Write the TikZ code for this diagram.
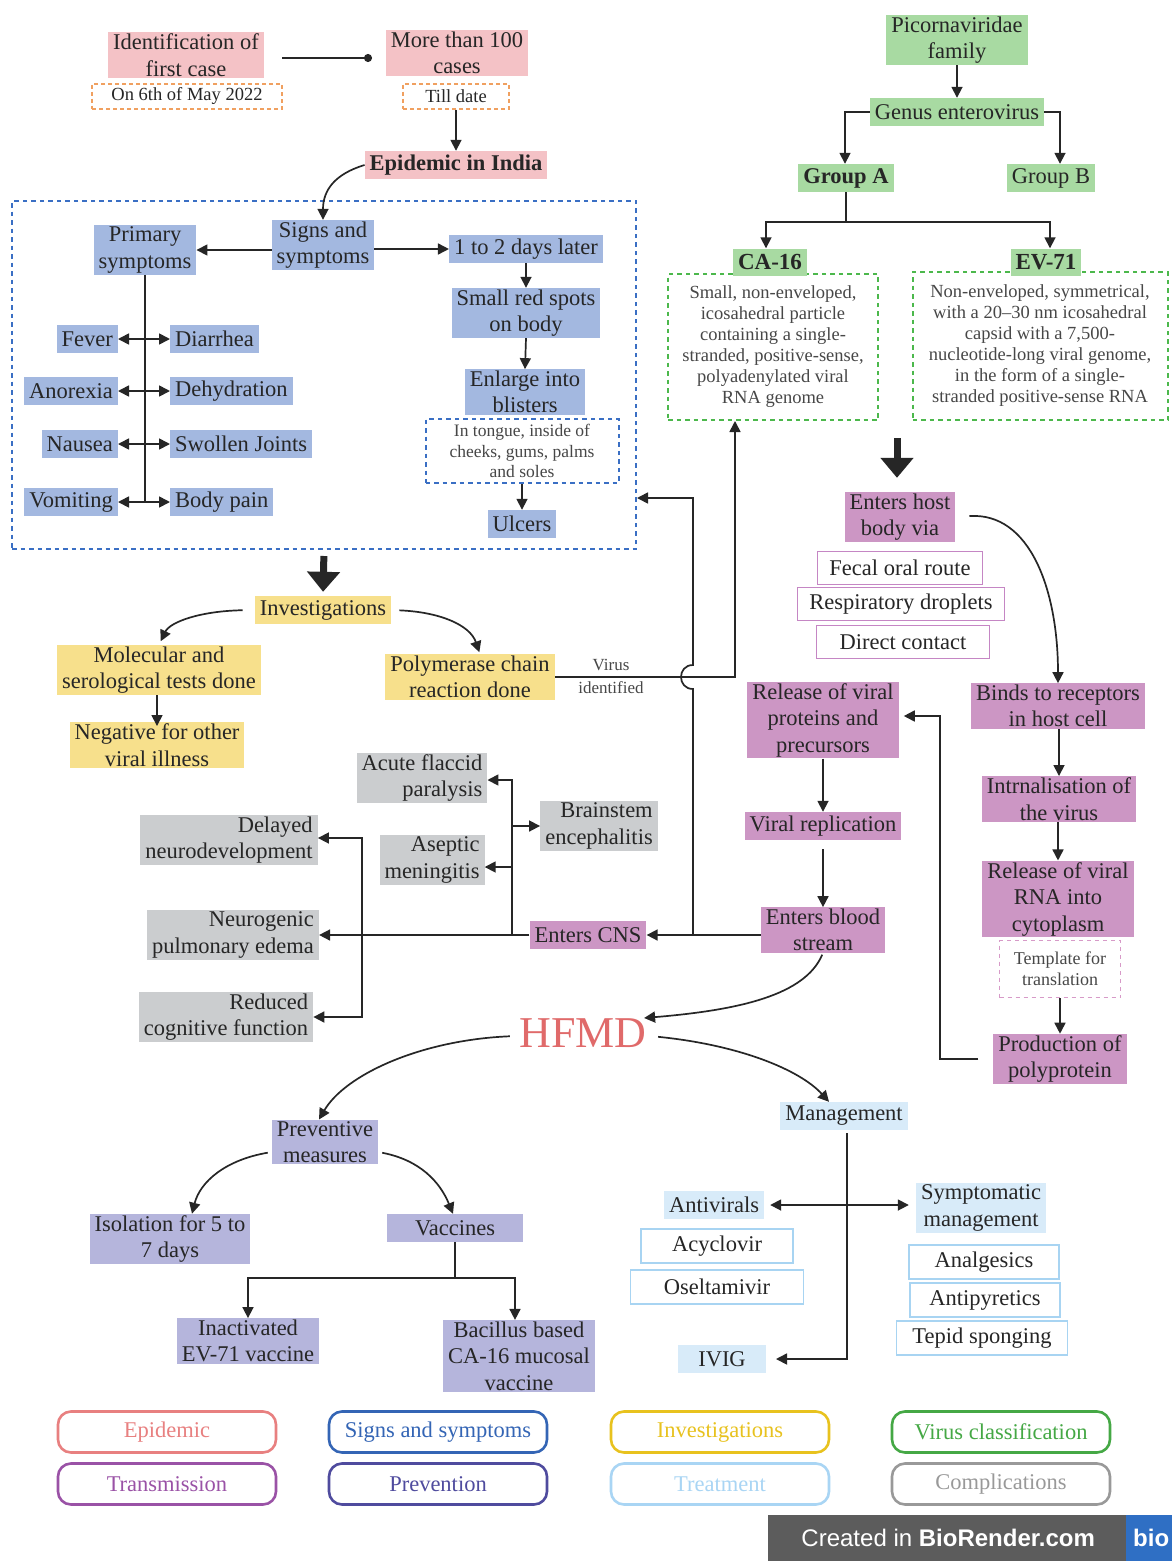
\documentclass[tikz,border=0pt]{standalone}
\usepackage{fontspec}
\setmainfont{Liberation Serif}
\newfontfamily\wmfont{Liberation Sans}
\usetikzlibrary{arrows.meta}
\definecolor{txt}{HTML}{262626}
\definecolor{epiF}{HTML}{F4C2C6}
\definecolor{blueF}{HTML}{A3B8E0}
\definecolor{yelF}{HTML}{F7E08C}
\definecolor{grnF}{HTML}{A8DAA2}
\definecolor{purF}{HTML}{CC96C4}
\definecolor{prevF}{HTML}{B5B5DC}
\definecolor{treatF}{HTML}{D8EBF9}
\definecolor{compF}{HTML}{CBCDCF}
\definecolor{orangeD}{HTML}{F0A060}
\definecolor{blueD}{HTML}{3A6FC4}
\definecolor{greenD}{HTML}{4CB84C}
\definecolor{pinkD}{HTML}{D79AC8}
\definecolor{purB}{HTML}{C586C4}
\definecolor{treatB}{HTML}{A8D4F2}
\definecolor{hfmdC}{HTML}{E06A6A}
\definecolor{lgEpi}{HTML}{E88080}
\definecolor{lgSig}{HTML}{3465B5}
\definecolor{lgInv}{HTML}{E8C21E}
\definecolor{lgVir}{HTML}{45A845}
\definecolor{lgTra}{HTML}{9A52A6}
\definecolor{lgPre}{HTML}{4F4B9E}
\definecolor{lgTre}{HTML}{A9D5F4}
\definecolor{lgCom}{HTML}{999999}
\definecolor{wmG}{HTML}{5C5C5C}
\definecolor{wmB}{HTML}{2F6FC4}
\tikzset{
  box/.style={align=center, inner xsep=5pt, inner ysep=1.5pt, text=txt, minimum height=28pt,
    font=\fontsize{22.5}{26.5}\selectfont},
  epiN/.style={box, fill=epiF},
  sigN/.style={box, fill=blueF},
  invN/.style={box, fill=yelF},
  virN/.style={box, fill=grnF},
  traN/.style={box, fill=purF},
  preN/.style={box, fill=prevF},
  treN/.style={box, fill=treatF},
  comN/.style={box, fill=compF, align=right},
  dateN/.style={box, draw=orangeD, line width=2pt, dash pattern=on 4pt off 3pt, minimum height=25pt,
    font=\fontsize{18.5}{20}\selectfont, inner ysep=2pt, inner xsep=8pt},
  descN/.style={align=center, text=txt!85, draw=greenD, line width=2pt,
    dash pattern=on 4.5pt off 4pt, font=\fontsize{18.5}{21}\selectfont, inner sep=4pt},
  routeN/.style={box, fill=white, draw=purB, line width=1.4pt, minimum height=33pt},
  drugN/.style={box, fill=white, draw=treatB, line width=1.4pt, minimum height=34pt},
  ln/.style={draw=txt, line width=1.7pt},
  arr/.style={ln, -{Triangle[length=11pt,width=11pt]}},
  arrs/.style={ln, {Triangle[length=11pt,width=11pt]}-{Triangle[length=11pt,width=11pt]}},
  bigarr/.style={draw=txt, line width=7pt, -{Triangle[length=20pt,width=32pt]}},
  legN/.style={draw, line width=2.6pt, rounded corners=13pt, minimum width=218pt,
    minimum height=41pt, font=\fontsize{22.5}{24}\selectfont, fill=white},
}
\begin{document}
\begin{tikzpicture}[x=1pt,y=-1pt]
\useasboundingbox (0,0) rectangle (1172,1561);
\fill[white] (0,0) rectangle (1172,1561);

% ---------- Epidemic ----------
\node[epiN] (id1) at (186,55) {Identification of\\first case};
\node[dateN, minimum width=190pt] (d1) at (187,96) {On 6th of May 2022};
\node[epiN] (m100) at (457,53) {More than 100\\cases};
\node[dateN, minimum width=106pt] (d2) at (456,96) {Till date};
\node[epiN, font=\fontsize{22.5}{26.5}\selectfont\bfseries] (epi) at (456,165) {Epidemic in India};
\coordinate (a1) at (272,58);
\coordinate (a2) at (382,58);
\draw[ln, -{Circle[length=8pt]}, shorten <=10pt, shorten >=10pt] (a1) -- (a2);
\draw[arr] (d2.south) -- (epi.north);

% ---------- Signs and symptoms ----------
\node[draw=blueD, line width=2pt, dash pattern=on 4.5pt off 4pt, minimum width=624pt,
  minimum height=348pt, inner sep=0pt] (sbox) at (324,375) {};
\node[sigN] (signs) at (323,245) {Signs and\\symptoms};
\node[sigN] (prim) at (145,250) {Primary\\symptoms};
\node[sigN] (days) at (526,249) {1 to 2 days later};
\node[sigN] (spots) at (526,313) {Small red spots\\on body};
\node[sigN] (enl) at (525,392) {Enlarge into\\blisters};
\node[descN, draw=blueD, inner sep=2pt, minimum width=193pt, minimum height=64pt,
  font=\fontsize{17.5}{20.5}\selectfont] (tongue) at (522,451) {In tongue, inside of\\cheeks, gums, palms\\and soles};
\node[sigN] (ulc) at (522,524) {Ulcers};
\draw[ln, -{Triangle[length=11pt,width=11pt]}] (epi.west) .. controls (335,174) and (323,190) .. (signs.north);
\draw[arr] (signs.west |- prim) -- (prim.east);
\draw[arr] (signs.east |- days) -- (days.west);
\draw[arr] (days.south) -- (spots.north);
\draw[arr] (spots.south) -- (enl.north);
\draw[arr] (tongue.south) -- (ulc.north);

\node[sigN, anchor=east] (fever) at (118,339) {Fever};
\node[sigN, anchor=west] (diar) at (170,339) {Diarrhea};
\node[sigN, anchor=east] (anor) at (118,391) {Anorexia};
\node[sigN, anchor=west] (dehy) at (170,391) {Dehydration};
\node[sigN, anchor=east] (naus) at (118,444) {Nausea};
\node[sigN, anchor=west] (swol) at (170,444) {Swollen Joints};
\node[sigN, anchor=east] (vomi) at (118,502) {Vomiting};
\node[sigN, anchor=west] (body) at (170,502) {Body pain};
\draw[ln] (prim.south) -- (prim.south |- vomi.east);
\draw[arrs] (fever.east) -- (diar.west);
\draw[arrs] (anor.east) -- (dehy.west);
\draw[arrs] (naus.east) -- (swol.west);
\draw[arrs] (vomi.east) -- (body.west);

% ---------- Investigations ----------
\node[invN] (inv) at (323,610) {Investigations};
\node[invN] (mol) at (159,670) {Molecular and\\serological tests done};
\node[invN] (neg) at (157,745) {Negative for other\\viral illness};
\node[invN] (pcr) at (470,677) {Polymerase chain\\reaction done};
\draw[bigarr, shorten <=6pt, shorten >=4pt] (sbox.south) -- (inv.north);
\draw[arr, shorten <=12pt, shorten >=4pt] (inv.west) .. controls (200,611) and (170,622) .. (mol.north);
\draw[arr, shorten <=8pt, shorten >=2pt] (inv.east) .. controls (440,612) and (470,625) .. ([xshift=10pt]pcr.north);
\draw[arr, shorten >=-4pt] (mol.south -| neg.north) -- (neg.north);

\coordinate (pv) at (735,677);
\node[font=\fontsize{17}{18}\selectfont, text=txt!85] (vl1) at (611,665) {Virus};
\node[font=\fontsize{17}{18}\selectfont, text=txt!85] (vl2) at (611,688) {identified};

% ---------- Complications ----------
\node[comN] (afp) at (422,778) {Acute flaccid\\paralysis};
\node[comN] (brain) at (599,826) {Brainstem\\encephalitis};
\node[comN] (asep) at (432,860) {Aseptic\\meningitis};
\node[traN] (cns) at (588,935) {Enters CNS};
\node[comN] (dely) at (229,840) {Delayed\\neurodevelopment};
\node[comN] (neur) at (233,935) {Neurogenic\\pulmonary edema};
\node[comN] (redc) at (226,1017) {Reduced\\cognitive function};
\coordinate (cv1) at (512,935);
\coordinate (cv2) at (362,935);
\draw[arr] (cns.west) -- (neur.east);
\draw[arr] (cv1) |- ([yshift=-2pt]afp.east);
\draw[arr] (cv1) |- ([yshift=-7pt]asep.east);
\draw[arr] (cv1) |- (brain.west);
\draw[arr] (cv2) |- ([yshift=2pt]dely.east);
\draw[arr] (cv2) |- (redc.east);

% ---------- Virus classification ----------
\node[virN] (pico) at (957,40) {Picornaviridae\\family};
\node[virN] (genus) at (957,112) {Genus enterovirus};
\node[virN, font=\fontsize{22.5}{26.5}\selectfont\bfseries] (grpA) at (846,178) {Group A};
\node[virN] (grpB) at (1051,178) {Group B};
\node[descN, minimum width=210pt, minimum height=146pt] (cadesc) at (773,347) {Small, non-enveloped,\\icosahedral particle\\containing a single-\\stranded, positive-sense,\\polyadenylated viral\\RNA genome};
\node[descN, minimum width=255pt, minimum height=148pt] (evdesc) at (1040,346) {Non-enveloped, symmetrical,\\with a 20--30 nm icosahedral\\capsid with a 7,500-\\nucleotide-long viral genome,\\in the form of a single-\\stranded positive-sense RNA};
\node[virN, font=\fontsize{23}{25}\selectfont\bfseries, inner ysep=1pt, minimum height=27pt] (ca16) at (770,262) {CA-16};
\node[virN, font=\fontsize{23}{25}\selectfont\bfseries, inner ysep=1pt, minimum height=27pt] (ev71) at (1046,262) {EV-71};
\draw[arr] (pico.south) -- (genus.north);
\coordinate (gA) at (845,112);
\coordinate (gB) at (1060,112);
\draw[arr] (genus.west) -- (gA) -- (gA |- grpA.north);
\draw[arr] (genus.east) -- (gB) -- (gB |- grpB.north);
\coordinate (gj) at (846,222);
\draw[ln] (grpA.south) -- (gj);
\draw[arr] (gj) -| ([xshift=-4pt]ca16.north);
\draw[arr] (gj) -| ([xshift=4pt]ev71.north);

% ---------- Transmission ----------
\coordinate (vc) at (897,438);
\node[traN] (enter) at (900,517) {Enters host\\body via};
\node[routeN, minimum width=165pt] (fecal) at (900,568) {Fecal oral route};
\node[routeN, minimum width=207pt] (resp) at (901,604) {Respiratory droplets};
\node[routeN, minimum width=173pt] (direct) at (903,642) {Direct contact};
\draw[bigarr, shorten >=14pt] (vc) -- (vc |- enter.north);
\node[traN] (binds) at (1058,706) {Binds to receptors\\in host cell};
\node[traN] (intr) at (1059,799) {Intrnalisation of\\the virus};
\node[traN] (relr) at (1058,899) {Release of viral\\RNA into\\cytoplasm};
\node[draw=pinkD, line width=1.6pt, dash pattern=on 4pt off 4pt, align=center,
  font=\fontsize{18}{21}\selectfont, text=txt!85, minimum width=121pt, minimum height=57pt] (templ) at (1060,969) {Template for\\translation};
\node[traN] (prod) at (1060,1059) {Production of\\polyprotein};
\node[traN] (relp) at (823,720) {Release of viral\\proteins and\\precursors};
\node[traN] (vrep) at (823,826) {Viral replication};
\node[traN] (blood) at (823,930) {Enters blood\\stream};
\draw[arr, shorten <=14pt] (enter.east) .. controls (1030,512) and (1058,590) .. (binds.north);
\draw[arr] (binds.south -| intr.north) -- (intr.north);
\draw[arr] (intr.south -| relr.north) -- (relr.north);
\draw[arr] (templ.south) -- (prod.north);
\coordinate (pr1) at (940,1059);
\coordinate (pr2) at (940,716);
\draw[arr, shorten <=15pt, shorten >=5pt] (prod.west) -- (pr1) -- (pr2) -- (pr2 -| relp.east);
\draw[arr] (relp.south) -- (vrep.north);
\draw[arr, shorten <=9pt] (vrep.south) -- (blood.north);
\draw[arr] (blood.west |- cns) -- (cns.east);

\coordinate (h1) at (693,935);
\coordinate (h2) at (693,498);
\draw[arr] (h1) -- (693,689) .. controls (677,689) and (677,665) .. (693,665) -- (h2) -- (h2 -| sbox.east);
\draw[arr] (pcr.east |- pv) -- (pv) -- (pv |- cadesc.south);

% ---------- Prevention ----------
\node[preN] (prev) at (325,1142) {Preventive\\measures};
\node[preN] (iso) at (170,1239) {Isolation for 5 to\\7 days};
\node[preN, minimum width=136pt] (vacc) at (455,1228) {Vaccines};
\node[preN] (inact) at (248,1341) {Inactivated\\EV-71 vaccine};
\node[preN] (bac) at (519,1356) {Bacillus based\\CA-16 mucosal\\vaccine};
\draw[arr, shorten <=4pt] ([yshift=-10pt]prev.west) .. controls (225,1160) and (200,1182) .. ([xshift=22pt]iso.north);
\draw[arr, shorten <=4pt] ([yshift=-10pt]prev.east) .. controls (420,1160) and (440,1182) .. ([xshift=-2pt]vacc.north);
\coordinate (vj) at (455,1278);
\draw[ln] (vacc.south) -- (vj);
\draw[arr] (vj) -| (inact.north);
\draw[arr] (vj) -| ([xshift=-4pt]bac.north);

% ---------- Management ----------
\node[treN] (mgmt) at (844,1116) {Management};
\node[treN] (antiv) at (714,1205) {Antivirals};
\node[drugN, minimum width=152pt] (acyc) at (717,1246) {Acyclovir};
\node[drugN, minimum width=173pt] (osel) at (717,1287) {Oseltamivir};
\node[treN] (symp) at (981,1208) {Symptomatic\\management};
\node[drugN, minimum width=150pt] (anal) at (984,1262) {Analgesics};
\node[drugN, minimum width=150pt] (antip) at (985,1300) {Antipyretics};
\node[drugN, minimum width=171pt] (tepid) at (982,1338) {Tepid sponging};
\node[treN, minimum width=88pt] (ivig) at (722,1359) {IVIG};
\coordinate (mj) at (847,1205);
\coordinate (ivE) at (776,1359);
\draw[arr, shorten <=3pt] (mgmt.south -| mj) |- (ivE);
\draw[arrs, shorten <=6pt, shorten >=7pt] (antiv.east) -- (antiv.east -| symp.west);

% ---------- HFMD ----------
\node[font=\fontsize{44}{48}\selectfont, text=hfmdC] (hfmd) at (583,1033) {HFMD};
\draw[arr, shorten <=2pt] (blood.south) .. controls (805,995) and (740,1010) .. ([yshift=15pt, xshift=-6pt]hfmd.east);
\draw[arr, shorten <=8pt] ([yshift=-3pt]hfmd.east) .. controls (740,1045) and (800,1070) .. ([xshift=-15pt]mgmt.north);
\draw[arr, shorten <=6pt] ([yshift=-3pt]hfmd.west) .. controls (420,1040) and (345,1075) .. ([xshift=-6pt]prev.north);

% ---------- Legend ----------
\node[legN, draw=lgEpi, text=lgEpi] (lg1) at (167,1432) {Epidemic};
\node[legN, draw=lgSig, text=lgSig] (lg2) at (438,1432) {Signs and symptoms};
\node[legN, draw=lgInv, text=lgInv] (lg3) at (720,1432) {Investigations};
\node[legN, draw=lgVir, text=lgVir] (lg4) at (1001,1432) {Virus classification};
\node[legN, draw=lgTra, text=lgTra] (lg5) at (167,1484) {Transmission};
\node[legN, draw=lgPre, text=lgPre] (lg6) at (438,1484) {Prevention};
\node[legN, draw=lgTre, text=lgTre] (lg7) at (720,1484) {Treatment};
\node[legN, draw=lgCom, text=lgCom] (lg8) at (1001,1484) {Complications};

% ---------- Watermark ----------
\node[fill=wmG, minimum width=360pt, minimum height=46pt, anchor=north west, inner sep=0pt,
  text=white, font=\wmfont\fontsize{24}{28}\selectfont] (wm) at (768,1515) {Created in \textbf{BioRender.com}};
\node[fill=wmB, minimum width=60pt, minimum height=46pt, anchor=north west, inner sep=0pt,
  text=white, font=\wmfont\fontsize{24}{28}\selectfont\bfseries, text width=54pt, align=left] (wmb) at (1126,1515) {\hspace*{4pt}bio};
\end{tikzpicture}
\end{document}
